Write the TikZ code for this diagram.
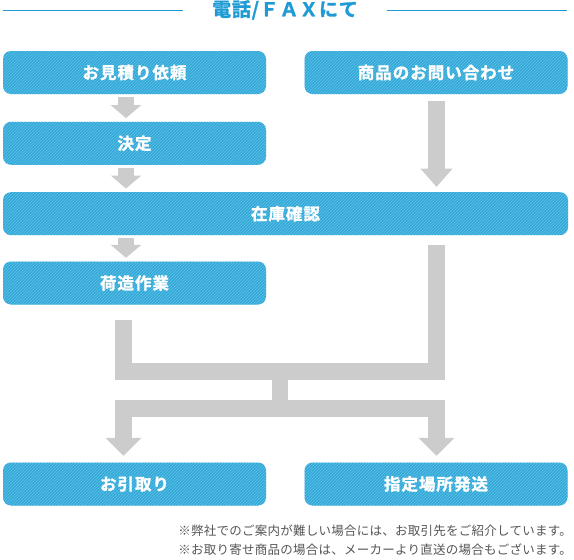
\documentclass[tikz,border=0pt]{standalone}
\usepackage{fontspec}
\setmainfont{Noto Sans CJK JP}
\newfontfamily\boxfont{Noto Sans CJK JP}[BoldFont={* Bold}, BoldFeatures={FakeBold=1.5}, LetterSpace=6]
\newfontfamily\titlefont{Noto Sans CJK JP}[BoldFont={* Bold}, BoldFeatures={FakeBold=1.5}, LetterSpace=4]
\newfontfamily\notefont{Noto Sans CJK JP}[LetterSpace=2]
\usetikzlibrary{calc,arrows.meta,patterns,positioning}
\definecolor{boxblue}{HTML}{33AAD8}
\definecolor{stripeblue}{HTML}{62C1E5}
\definecolor{flowgray}{HTML}{CCCCCC}
\definecolor{titleblue}{HTML}{1E9BD4}
\definecolor{notegray}{HTML}{555555}
\tikzset{
  flowbox/.style={rounded corners=8pt, fill=boxblue, postaction={pattern=north east lines, pattern color=stripeblue},
    minimum height=43pt, inner sep=0pt, text=white, font=\boxfont\bfseries\fontsize{16.5}{18}\selectfont},
  halfbox/.style={flowbox, minimum width=263pt},
  fullbox/.style={flowbox, minimum width=565pt},
  smallflow/.style={draw=flowgray, line width=16pt, -{Triangle[width=30pt,length=13pt]}, shorten <=3pt, shorten >=3.5pt},
  bigflow/.style={draw=flowgray, line width=17pt, line join=miter},
  notetext/.style={anchor=east, inner sep=0pt, text=notegray, font=\notefont\fontsize{12.5}{14}\selectfont},
}
\begin{document}
\begin{tikzpicture}[x=1pt,y=-1pt]
    \useasboundingbox (0,0) rectangle (574,560);
    % title
    \node[font=\titlefont\bfseries\fontsize{19}{20}\selectfont, text=titleblue] (title) at (285,10) {電話/ＦＡＸにて};
    \coordinate (lineL) at (3,10.2);
    \coordinate (lineR) at (567,10.2);
    \path[draw=titleblue, line width=1pt](lineL)to(183,10.2);
    \path[draw=titleblue, line width=1pt](387,10.2)to(lineR);
    % boxes
    \node[halfbox] (quote) at (134.5,72.5) {お見積り依頼};
    \node[halfbox] (inquiry) at (436,72.5) {商品のお問い合わせ};
    \node[halfbox] (decide) at (134.5,143.3) {決定};
    \node[fullbox] (stock) at (285.5,213.7) {在庫確認};
    \node[halfbox] (pack) at (134.5,283) {荷造作業};
    \node[halfbox] (pickup) at (134.5,484) {お引取り};
    \node[halfbox] (ship) at (436,484) {指定場所発送};
    % columns of the arrows
    \coordinate (colA) at (126,0);
    \coordinate (colL) at (123.5,0);
    \coordinate (colM) at (280,0);
    \coordinate (colR) at (436.5,0);
    % small arrows
    \path[smallflow](colA |- quote.south)to(colA |- decide.north);
    \path[smallflow](colA |- decide.south)to(colA |- stock.north);
    \path[smallflow](colA |- stock.south)to(colA |- pack.north);
    \path[smallflow, line width=17pt, -{Triangle[width=31pt,length=18.5pt]}, shorten <=7pt, shorten >=5pt](colR |- inquiry.south)to(colR |- stock.north);
    % merge and split
    \path[bigflow, shorten <=15.5pt, shorten >=10pt](colL |- pack.south)--(colL |- 0,371.2)--(colR |- 0,371.2)--(colR |- stock.south);
    \path[draw=flowgray, line width=16pt](colM |- 0,379)--(colM |- 0,401);
    \path[bigflow, {Triangle[width=35pt,length=18pt]}-{Triangle[width=35pt,length=18pt]}, shorten <=6.5pt, shorten >=6.5pt]
        (colL |- pickup.north)--(colL |- 0,408.8)--(colR |- 0,408.8)--(colR |- ship.north);
    % notes
    \node[notetext] (note1) at (572,531) {※弊社でのご案内が難しい場合には、お取引先をご紹介しています。};
    \node[notetext] (note2) at (572,550) {※お取り寄せ商品の場合は、メーカーより直送の場合もございます。};
\end{tikzpicture}
\end{document}
